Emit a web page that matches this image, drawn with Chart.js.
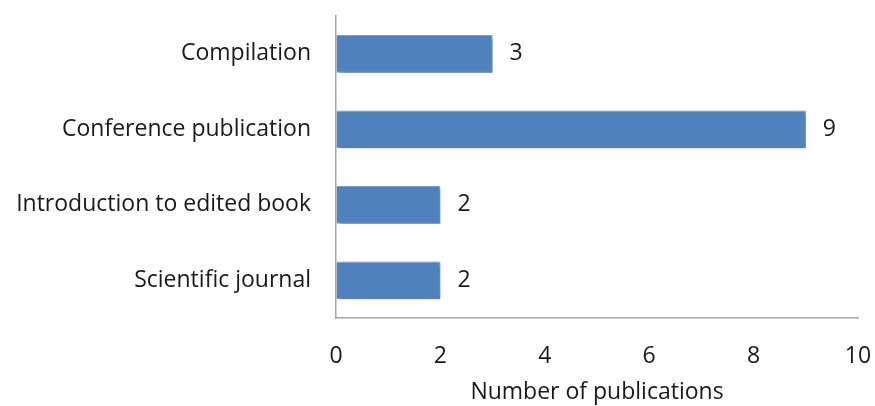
<!DOCTYPE html>
<html>
<head>
<meta charset="utf-8">
<script src="https://cdn.jsdelivr.net/npm/chart.js@4"></script>
<style>
  html, body { margin: 0; padding: 0; background: #fff; }
  #wrap { width: 875px; height: 406px; }
</style>
</head>
<body>
<div id="wrap"><canvas id="pubChart"></canvas></div>
<script>
const categories = ['Compilation', 'Conference publication', 'Introduction to edited book', 'Scientific journal']
const publications = [3, 9, 2, 2]
const xTicks = [0, 2, 4, 6, 8, 10]
const xTitle = 'Number of publications'

const fontFamily = "'Open Sans', 'Noto Sans', sans-serif"
const fontSize = 23
const textColor = '#1a1a1a'

// shadow under the bars, then value labels at the bar ends
const barDecor = {
  id: 'barDecor',
  beforeDatasetsDraw(chart) {
    const ctx = chart.ctx
    ctx.save()
    ctx.shadowColor = 'rgba(0,0,0,0.35)'
    ctx.shadowOffsetX = 3
    ctx.shadowOffsetY = 3
    ctx.shadowBlur = 4
  },
  afterDatasetsDraw(chart) {
    const ctx = chart.ctx
    ctx.restore()
    const meta = chart.getDatasetMeta(0)
    ctx.save()
    ctx.font = fontSize + 'px ' + fontFamily
    ctx.fillStyle = textColor
    ctx.textBaseline = 'middle'
    ctx.textAlign = 'left'
    meta.data.forEach((bar, i) => {
      ctx.fillText(String(publications[i]), bar.x + 17, bar.y)
    })
    ctx.restore()
  }
}

new Chart(document.getElementById('pubChart'), {
  type: 'bar',
  data: {
    labels: categories,
    datasets: [{
      data: publications,
      backgroundColor: '#4f81bd',
      borderColor: '#7aa0cf',
      borderWidth: 1,
      barPercentage: 0.5,
      categoryPercentage: 1
    }]
  },
  options: {
    indexAxis: 'y',
    responsive: true,
    maintainAspectRatio: false,
    animation: false,
    layout: { padding: { top: 16, right: 17, bottom: 0, left: 0 } },
    plugins: {
      legend: { display: false },
      tooltip: { enabled: false }
    },
    scales: {
      x: {
        min: 0,
        max: 10,
        afterBuildTicks(scale) {
          scale.ticks = xTicks.map(v => ({ value: v }))
        },
        afterFit(scale) { scale.height = 88 },
        // invisible tick marks give the gap between axis and labels
        grid: { color: 'transparent', drawOnChartArea: false, drawTicks: true, tickLength: 25 },
        border: { display: true, color: '#a6a6a6', width: 1.5 },
        ticks: {
          padding: 0,
          maxRotation: 0,
          color: textColor,
          font: { family: fontFamily, size: fontSize }
        },
        title: {
          display: true,
          text: xTitle,
          color: textColor,
          font: { family: fontFamily, size: fontSize },
          padding: { top: 4, bottom: 0 }
        }
      },
      y: {
        afterFit(scale) { scale.width = 336 },
        grid: { color: 'transparent', drawOnChartArea: false, drawTicks: true, tickLength: 25 },
        border: { display: true, color: '#a6a6a6', width: 1.5 },
        ticks: {
          padding: 0,
          color: textColor,
          font: { family: fontFamily, size: fontSize }
        }
      }
    }
  },
  plugins: [barDecor]
})
</script>
</body>
</html>
